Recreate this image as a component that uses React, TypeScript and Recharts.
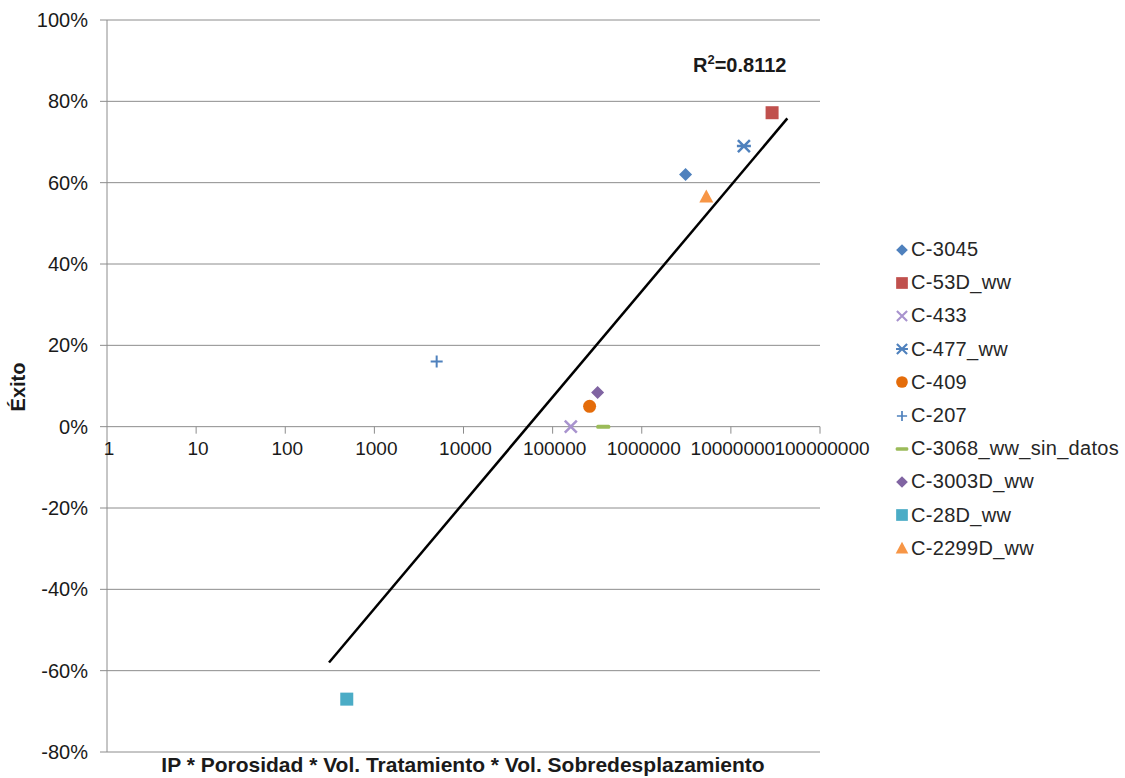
import React from "react";
import { ScatterChart, Scatter, XAxis, YAxis, CartesianGrid, ReferenceDot } from "recharts";

if (typeof document !== "undefined") document.body.style.margin = "0";

const FONT = "'Liberation Sans', Arial, sans-serif";
const GRID = "#8c8c8c";
const TXT = "#1a1a1a";

// x: IP * Porosidad * Vol. Tratamiento * Vol. Sobredesplazamiento, y: Éxito (%)
const NAMES = [
  "C-3045", "C-53D_ww", "C-433", "C-477_ww", "C-409",
  "C-207", "C-3068_ww_sin_datos", "C-3003D_ww", "C-28D_ww", "C-2299D_ww",
];
const X_VALUES = [3100000, 29000000, 160000, 14000000, 260000, 5000, 370000, 320000, 490, 5300000];
const Y_VALUES = [62, 77.2, 0, 69, 5, 16, 0, 8.4, -67, 56.6];
const COLORS = [
  "#4F81BD", "#C0504D", "#A893CE", "#4F81BD", "#E46C0A",
  "#4F81BD", "#9BBB59", "#8064A2", "#4BACC6", "#F79646",
];
const MARKERS = ["diamond", "square", "x", "star", "circle", "plus", "dash", "diamond", "square", "triangle"];

const TREND_X = [310, 43000000];
const TREND_Y = [-58, 75.8];

const X_TICKS = [1, 10, 100, 1000, 10000, 100000, 1000000, 10000000, 100000000];
const Y_TICKS = [-80, -60, -40, -20, 0, 20, 40, 60, 80, 100];

const trend = TREND_X.map((x, i) => ({ x, y: TREND_Y[i] }));

function Marker({ kind, cx, cy, color }: { kind: string; cx: number; cy: number; color: string }) {
  switch (kind) {
    case "diamond":
      return <path d={`M${cx},${cy - 6.5}L${cx + 6.5},${cy}L${cx},${cy + 6.5}L${cx - 6.5},${cy}Z`} fill={color} />;
    case "square":
      return <rect x={cx - 6.5} y={cy - 6.5} width={13} height={13} fill={color} />;
    case "circle":
      return <circle cx={cx} cy={cy} r={6.5} fill={color} />;
    case "triangle":
      return <path d={`M${cx},${cy - 7}L${cx + 7},${cy + 6}L${cx - 7},${cy + 6}Z`} fill={color} />;
    case "x":
      return (
        <path d={`M${cx - 6},${cy - 6}L${cx + 6},${cy + 6}M${cx + 6},${cy - 6}L${cx - 6},${cy + 6}`}
          stroke={color} strokeWidth={2.5} />
      );
    case "star":
      return (
        <path
          d={`M${cx - 6},${cy - 6}L${cx + 6},${cy + 6}M${cx + 6},${cy - 6}L${cx - 6},${cy + 6}M${cx - 7},${cy}L${cx + 7},${cy}`}
          stroke={color} strokeWidth={2.5} />
      );
    case "plus":
      return <path d={`M${cx - 6},${cy}L${cx + 6},${cy}M${cx},${cy - 6}L${cx},${cy + 6}`} stroke={color} strokeWidth={2} />;
    case "dash":
      return <rect x={cx - 7} y={cy - 2} width={14} height={4} rx={1.5} fill={color} />;
  }
  return null;
}

function LegendIcon({ kind, color }: { kind: string; color: string }) {
  const thin = kind === "x" || kind === "star" || kind === "plus";
  return (
    <svg width={14} height={14} style={{ marginRight: 2 }}>
      <g transform={`translate(7,7) scale(${thin ? 0.85 : 0.9}) translate(-7,-7)`}>
        <Marker kind={kind} cx={7} cy={7} color={color} />
      </g>
    </svg>
  );
}

function XTick(props: any) {
  const { cx, cy, payload } = props;
  return (
    <g>
      {payload !== 1 && <line x1={cx} y1={cy} x2={cx} y2={cy + 7} stroke={GRID} />}
      <text x={cx + 2} y={cy + 28} textAnchor="middle" fontSize={19} fill={TXT} fontFamily={FONT}>
        {String(payload)}
      </text>
    </g>
  );
}

export default function App() {
  return (
    <div style={{ position: "relative", width: 1125, height: 778, background: "#fff", fontFamily: FONT }}>
      <ScatterChart width={1125} height={778} margin={{ top: 20, right: 305, bottom: 26, left: 0 }}>
        <CartesianGrid vertical={false} stroke={GRID} />
        <XAxis type="number" dataKey="x" scale="log" domain={[1, 100000000]} hide allowDataOverflow />
        <YAxis
          type="number"
          dataKey="y"
          domain={[-80, 100]}
          ticks={Y_TICKS}
          width={107}
          interval={0}
          tickSize={7}
          tickMargin={12}
          axisLine={{ stroke: GRID }}
          tickLine={{ stroke: GRID }}
          tickFormatter={(v) => `${v}%`}
          tick={{ fontSize: 20, fill: TXT, fontFamily: FONT }}
        />
        {X_TICKS.map((t) => (
          <ReferenceDot key={t} x={t} y={0} r={1} ifOverflow="visible"
            shape={(p: any) => <XTick {...p} payload={t} />} />
        ))}
        <Scatter
          data={trend}
          isAnimationActive={false}
          line={{ stroke: "#000", strokeWidth: 2.5 }}
          shape={() => <g />}
        />
        {NAMES.map((name, i) => (
          <Scatter
            key={name}
            name={name}
            data={[{ x: X_VALUES[i], y: Y_VALUES[i] }]}
            isAnimationActive={false}
            shape={(p: any) => <Marker kind={MARKERS[i]} cx={p.cx} cy={p.cy} color={COLORS[i]} />}
          />
        ))}
      </ScatterChart>

      <div style={{ position: "absolute", left: 693, top: 52, fontWeight: "bold", fontSize: 20, color: TXT }}>
        R<sup style={{ fontSize: 13 }}>2</sup>=0.8112
      </div>

      <div
        style={{
          position: "absolute", left: 18, top: 387, transform: "translate(-50%,-50%) rotate(-90deg)",
          fontWeight: "bold", fontSize: 20, color: TXT, whiteSpace: "nowrap",
        }}
      >
        Éxito
      </div>

      <div style={{ position: "absolute", left: 0, width: 926, top: 753, textAlign: "center", fontWeight: "bold", fontSize: 21, color: TXT }}>
        IP * Porosidad * Vol. Tratamiento * Vol. Sobredesplazamiento
      </div>

      <div style={{ position: "absolute", left: 895, top: 233 }}>
        {NAMES.map((name, i) => (
          <div key={name} style={{ display: "flex", alignItems: "center", height: 33.2, fontSize: 20, color: "#262626", letterSpacing: 0.3 }}>
            <LegendIcon kind={MARKERS[i]} color={COLORS[i]} />
            {name}
          </div>
        ))}
      </div>
    </div>
  );
}
